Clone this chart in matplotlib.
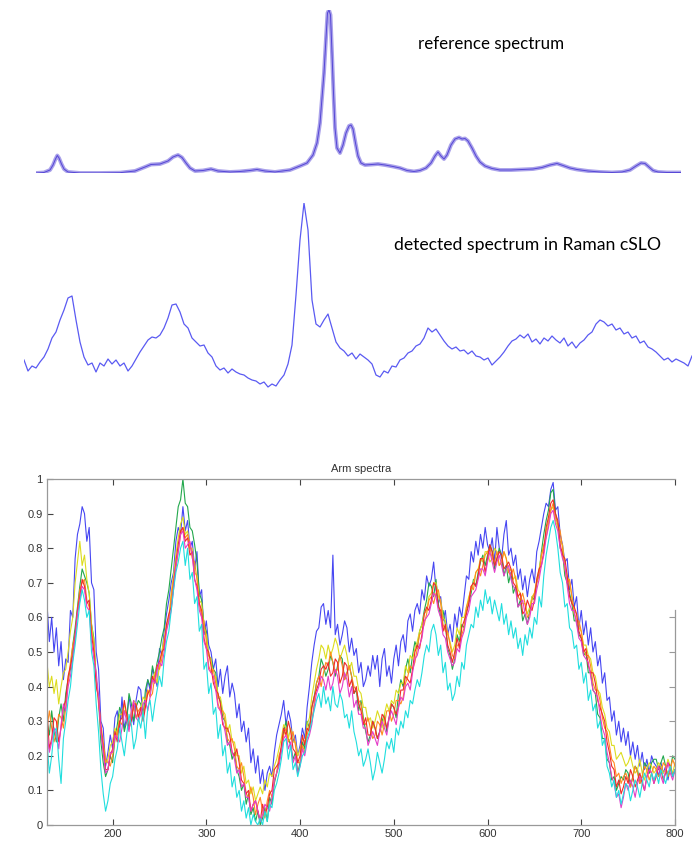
import numpy as np
import matplotlib
matplotlib.use("Agg")
import matplotlib.pyplot as plt

# ---------------- reference spectrum (top) ----------------
ref_shift = [0, 8, 14, 17, 19.5, 21.3, 23, 25.5, 28, 32, 44, 64, 84, 99, 109, 115, 124, 132, 137, 142,
             146, 150, 154, 159, 167, 175, 182, 194, 204, 214, 221, 229, 239, 254, 264, 271, 277, 281,
             284, 286, 288, 290, 291.5, 293, 294.5, 296, 297.5, 299, 301, 304, 307, 310, 313, 315, 317,
             319.5, 322, 325, 329, 336, 342, 349, 357, 364, 371, 378, 384, 390, 395, 399, 402, 405, 408,
             411, 415, 419, 423, 426, 429, 432, 436, 440, 444, 449, 456, 464, 475, 486, 497, 506, 514,
             521, 527, 534, 541, 552, 564, 576, 586, 594, 600, 605, 609, 613, 617, 622, 631, 645]
ref_intensity = [0, 0.5, 3, 8, 14, 17.5, 15, 9, 4, 1, 0, 0, 0.3, 2, 6, 8.5, 9, 12, 16, 18,
                 15.5, 10, 5, 2, 2.5, 4, 2, 1, 1.5, 2.5, 3.5, 2, 1, 3, 7, 10, 18, 30,
                 50, 75, 100, 135, 160, 163, 158, 120, 80, 45, 25, 20, 28, 40, 47, 48, 44,
                 30, 17, 10, 8, 8.5, 9, 8, 6.5, 5, 2.5, 1.5, 2.5, 5, 10, 17, 21, 17, 14,
                 18, 28, 34, 35.5, 34, 34.5, 32, 25, 17, 11, 7, 4.5, 3, 3, 3.5, 4, 5.5, 8,
                 9.5, 7.5, 5, 3.5, 2, 1, 0.5, 1, 3, 7, 10, 9.5, 6, 2.5, 1, 0.5, 0.5]

# ---------------- detected spectrum (middle) ----------------
detected = [30, 19, 24, 22, 28, 33, 41, 52, 58, 70, 80, 92, 94, 70, 48, 33, 25, 27, 18, 27,
            24, 31, 26, 30, 24, 27, 19, 24, 31, 38, 44, 50, 53, 52, 55, 62, 72, 85, 86, 78,
            66, 62, 52, 48, 44, 45, 37, 33, 24, 20, 22, 17, 21, 18, 16, 15, 12, 10, 9, 6,
            8, 3, 6, 4, 10, 15, 26, 45, 95, 150, 187, 160, 90, 66, 63, 70, 76, 62, 48, 42,
            39, 34, 37, 31, 36, 33, 30, 26, 15, 13, 19, 17, 24, 23, 30, 32, 37, 39, 44, 46,
            52, 62, 58, 61, 55, 49, 44, 41, 43, 39, 40, 36, 39, 34, 33, 30, 32, 25, 29, 33,
            38, 44, 49, 51, 55, 52, 56, 48, 51, 46, 52, 49, 54, 50, 47, 52, 44, 48, 42, 47,
            50, 55, 58, 66, 70, 68, 64, 66, 60, 62, 56, 58, 52, 54, 47, 49, 43, 41, 38, 34,
            30, 32, 28, 31, 29, 27, 24, 34]

# ---------------- arm spectra (bottom), values in hundredths, 130..800 ----------------
arm_blue = [64,53,60,50,57,46,53,42,48,47,62,60,77,84,87,92,90,82,86,70,
            68,50,45,30,28,17,21,26,22,31,33,27,37,28,31,37,33,29,36,40,
            39,31,36,42,39,45,43,40,51,49,56,61,65,70,73,82,86,84,92,85,
            88,80,82,74,79,66,68,55,59,52,50,45,48,40,45,38,43,46,37,41,
            38,31,35,27,30,24,28,18,22,15,20,12,16,10,15,17,14,21,26,29,
            32,36,29,33,30,24,26,20,23,28,25,34,40,47,52,56,57,63,64,58,
            62,57,78,55,58,52,55,59,57,50,54,49,51,44,47,40,42,46,43,49,
            45,49,40,48,51,43,46,41,48,52,46,53,55,50,59,61,56,62,64,61,
            68,65,72,69,71,76,68,64,66,59,62,55,58,53,61,57,63,60,66,72,
            71,79,76,82,78,84,80,86,81,79,83,76,86,80,77,84,88,78,80,75,
            78,71,74,68,72,66,71,74,70,79,82,86,90,93,92,97,99,91,92,84,
            81,76,77,68,71,63,66,57,62,55,59,52,57,50,53,46,49,41,44,36,
            37,30,33,26,30,24,28,23,27,20,24,19,23,17,21,16,19,15,20,18,
            17,14,18,15,17,13,17,14,16]
arm_cyan = [24,15,20,27,28,19,12,25,30,36,40,47,52,58,64,68,65,60,62,50,
            46,35,27,16,9,4,7,12,14,19,22,28,24,20,26,32,29,22,25,31,
            28,33,25,34,36,30,35,39,43,40,48,53,56,62,68,73,76,80,82,75,
            80,71,73,64,66,56,58,45,47,38,41,32,34,25,29,20,23,15,18,11,
            14,8,10,4,7,2,5,0,3,1,0,2,0,4,1,6,5,10,12,15,
            19,24,25,19,23,16,18,14,17,20,21,25,27,30,33,36,38,34,40,35,
            37,33,40,35,34,38,36,31,32,28,33,27,24,20,22,17,19,22,18,13,
            16,21,18,15,19,24,22,25,21,28,26,30,28,33,31,36,35,39,42,40,
            44,49,52,50,56,58,55,49,52,44,47,39,41,36,38,43,40,47,45,52,
            55,58,57,63,60,65,62,68,64,66,61,65,62,59,64,58,61,55,59,54,
            57,51,54,49,55,52,57,54,60,58,66,63,72,78,82,86,88,85,80,73,
            70,63,64,57,56,51,52,45,47,41,44,36,39,33,35,28,30,23,25,17,
            15,11,13,8,10,6,9,12,11,7,10,13,11,8,12,15,13,11,15,13,
            15,12,16,14,12,15,17,14,16]
arm_green = [30,26,33,27,24,31,35,30,38,42,45,52,57,63,69,74,72,70,67,58,
             54,42,36,24,18,14,16,20,18,25,29,34,32,27,30,38,35,30,34,36,
             35,31,39,42,40,46,43,47,50,54,57,64,68,74,80,86,92,94,100,93,
             92,86,85,81,76,67,65,58,56,49,48,45,44,37,36,31,30,24,23,19,
             21,16,14,10,12,6,9,3,5,1,4,0,2,5,1,8,6,12,15,18,
             22,27,30,25,23,19,21,15,18,24,22,30,28,34,37,41,43,48,46,43,
             45,49,47,43,46,49,48,42,44,46,43,38,39,33,36,31,27,24,26,30,
             28,25,27,30,32,27,31,35,34,31,38,42,40,45,48,44,49,53,51,56,
             58,62,65,70,69,66,71,64,60,62,58,51,49,45,48,55,53,58,57,62,
             64,67,71,69,73,76,78,75,78,81,79,74,77,80,78,72,75,70,73,67,
             69,63,65,59,61,58,62,66,65,70,73,79,84,88,91,96,97,90,87,80,
             79,72,70,67,64,59,59,55,54,49,50,44,44,39,38,32,31,25,25,19,
             18,13,14,10,12,14,13,16,15,11,14,17,16,12,14,18,17,15,18,19,
             19,16,18,20,17,14,16,20,19]
arm_yellow = [47,40,43,38,42,35,40,44,45,50,56,60,70,76,82,75,78,71,67,58,
              53,42,37,27,22,18,19,23,24,28,26,32,32,35,31,29,33,36,35,31,
              33,37,36,39,38,42,44,41,46,50,54,58,60,67,72,78,83,87,89,84,
              85,80,80,73,72,65,64,57,55,49,48,42,43,37,37,33,32,27,29,24,
              24,20,20,15,17,12,13,9,11,7,9,11,9,13,11,15,14,17,19,22,
              25,29,28,25,28,24,24,20,22,25,24,29,31,37,41,45,48,52,51,48,
              52,49,51,54,52,48,50,52,49,45,47,43,43,39,38,34,34,30,31,28,
              30,33,31,28,32,35,33,36,35,39,38,41,41,46,44,49,48,51,53,56,
              58,61,62,66,67,70,70,66,65,60,59,55,53,50,52,57,55,60,60,63,
              66,68,70,73,74,77,76,79,79,76,77,80,79,75,76,79,77,73,74,71,
              72,68,67,64,64,61,63,66,67,71,74,78,80,85,88,91,92,88,86,82,
              81,75,72,70,66,62,61,57,56,52,52,49,48,44,43,39,38,34,32,28,
              27,23,23,19,20,21,19,17,18,20,17,15,16,19,15,13,16,18,17,15,
              16,18,17,15,16,19,17,15,18]
arm_red = [33,22,25,31,30,24,28,34,36,43,46,49,55,62,66,71,69,64,65,55,
           50,40,37,28,22,16,16,20,22,27,24,30,31,36,32,28,30,35,35,31,
           34,30,34,38,39,43,41,46,47,50,51,58,61,63,69,76,81,85,86,82,
           83,78,79,71,69,64,62,54,51,50,46,41,39,38,35,29,28,28,26,21,
           20,22,18,13,12,9,10,4,6,7,4,1,6,3,5,9,10,16,17,18,
           23,28,26,30,27,22,21,18,20,26,23,28,27,34,37,39,41,45,46,45,
           47,43,44,48,47,41,43,47,46,40,42,38,40,35,33,29,31,26,26,30,
           28,25,27,32,31,28,31,35,34,32,34,39,39,43,42,41,45,50,52,51,
           55,61,63,62,65,70,69,63,62,56,58,52,50,47,50,54,51,57,59,61,
           64,69,70,69,72,77,77,73,77,81,79,75,77,79,78,74,75,76,74,70,
           69,66,67,61,62,65,63,62,65,71,74,75,79,86,89,93,94,90,88,81,
           78,77,72,66,64,63,61,56,54,50,51,46,44,44,41,36,34,32,30,24,
           21,17,16,11,13,9,11,14,12,16,14,11,13,15,12,10,14,16,15,12,
           14,17,16,13,15,18,17,14,16]
arm_orange = [28,33,28,24,27,32,31,28,34,41,47,52,55,62,68,70,71,65,63,56,
              52,42,35,29,24,19,18,17,20,25,27,30,29,33,32,29,31,34,31,33,
              34,32,35,39,37,38,43,46,45,48,53,57,59,66,71,74,79,84,86,83,
              84,81,77,76,71,64,60,59,53,46,44,45,41,35,33,33,30,25,24,25,
              22,17,16,18,14,9,8,11,8,3,6,8,4,2,7,10,8,13,15,20,
              22,26,28,24,25,27,23,18,18,23,21,26,29,30,35,41,43,40,44,47,
              46,50,47,44,45,49,46,42,44,46,43,40,39,36,35,30,29,31,28,25,
              26,30,29,26,29,33,33,30,32,36,36,35,37,41,43,46,45,47,51,55,
              56,58,61,65,66,64,67,68,64,58,56,56,52,49,48,52,52,55,57,63,
              65,69,68,73,74,72,75,78,79,80,77,76,79,75,76,79,77,73,72,74,
              71,66,65,67,64,60,61,65,67,70,72,78,81,83,87,91,93,89,87,85,
              80,74,70,71,66,61,59,59,56,51,49,49,46,41,39,39,36,31,28,27,
              23,19,18,14,15,12,14,15,13,11,14,17,15,12,14,17,16,13,15,17,
              16,14,15,18,17,14,16,19,17]
arm_magenta = [27,21,24,28,26,22,29,35,33,40,43,48,54,61,65,69,68,63,62,53,
               48,44,37,27,21,15,16,21,21,26,25,24,28,33,30,27,33,36,31,30,
               32,35,36,33,37,42,41,45,47,46,50,56,59,62,68,75,79,84,85,80,
               81,82,78,71,68,62,60,53,51,45,44,43,39,34,33,30,27,23,24,21,
               19,15,16,11,12,8,8,4,6,7,4,1,3,6,5,4,8,13,15,17,
               21,25,26,22,24,18,20,15,17,22,20,24,26,29,34,38,40,43,42,39,
               43,39,41,45,43,38,40,44,42,37,40,34,36,32,32,28,28,23,25,27,
               25,23,27,30,28,26,31,33,31,29,34,37,36,40,41,39,44,48,49,52,
               54,59,60,61,64,67,66,62,60,55,54,50,48,46,47,51,50,54,56,60,
               62,66,67,68,71,74,74,72,76,79,76,73,76,78,75,72,74,75,71,69,
               68,63,64,65,61,58,60,64,64,68,71,75,78,83,86,90,91,87,85,80,
               77,75,69,64,62,62,58,54,53,49,48,47,43,39,38,37,32,28,26,21,
               18,14,12,8,9,5,8,12,10,13,11,8,12,14,13,10,14,16,15,12,
               15,17,14,12,16,18,15,13,16]

arm_series = [arm_blue, arm_green, arm_yellow, arm_orange, arm_red, arm_magenta, arm_cyan]
arm_colors = ['#4646f2', '#22a84c', '#dcdc1e', '#ff8a1e', '#f02a2a', '#e43cc8', '#20dede']
x_start, x_end = 130, 800
x_ticks = [200, 300, 400, 500, 600, 700, 800]
y_ticks = [0, 0.1, 0.2, 0.3, 0.4, 0.5, 0.6, 0.7, 0.8, 0.9, 1]
y_tick_labels = ['0', '0.1', '0.2', '0.3', '0.4', '0.5', '0.6', '0.7', '0.8', '0.9', '1']

W, H = 693, 842
fig = plt.figure(figsize=(W / 100, H / 100), dpi=100)

def px_axes(left, top, right, bottom):
    return fig.add_axes([left / W, 1 - bottom / H, (right - left) / W, (bottom - top) / H])

# top panel
ax_ref = px_axes(36, 10, 681, 173)
ax_ref.plot(ref_shift, ref_intensity, color='#aaa2ea', lw=2.8, solid_joinstyle='round')
ax_ref.plot(ref_shift, ref_intensity, color='#5546d6', lw=0.7)
ax_ref.set_xlim(0, 645)
ax_ref.set_ylim(0, 163)
ax_ref.axis('off')

# middle panel
ax_det = px_axes(24, 203, 692, 390)
ax_det.plot(np.arange(len(detected)), detected, color='#5a5af2', lw=0.9)
ax_det.set_xlim(0, len(detected) - 1)
ax_det.set_ylim(0, 187)
ax_det.axis('off')

label_font = ['Lato', 'DejaVu Sans']
fig.text(418 / W, 1 - 44 / H, 'reference spectrum', fontsize=12.2, family=label_font,
         va='center', ha='left', color='black')
fig.text(394 / W, 1 - 245 / H, 'detected spectrum in Raman cSLO', fontsize=12.7, family=label_font,
         va='center', ha='left', color='black')

# bottom panel
ax = px_axes(47, 479, 675, 825)
for vals, col in zip(arm_series, arm_colors):
    vals = np.asarray(vals) / 100.0
    xs = np.linspace(x_start, x_end, len(vals))
    ax.plot(xs, vals, color=col, lw=0.8)
ax.set_xlim(x_start, x_end)
ax.set_ylim(0, 1)
ax.set_xticks(x_ticks)
ax.set_yticks(y_ticks)
ax.set_yticklabels(y_tick_labels)
ax.tick_params(direction='in', top=True, right=False, length=4, width=0.8,
               labelsize=8, colors='#444444', pad=3)
for s in ax.spines.values():
    s.set_color('#999999')
    s.set_linewidth(0.9)
ax.spines['right'].set_bounds(0, 0.62)
for lab in ax.get_xticklabels() + ax.get_yticklabels():
    lab.set_family(['Liberation Sans', 'DejaVu Sans'])
    lab.set_color('#333333')
ax2 = ax.twinx()
ax2.set_ylim(0, 1)
ax2.set_yticks([0.1, 0.2, 0.3, 0.4, 0.5, 0.6])
ax2.tick_params(direction='in', length=4, width=0.8, labelright=False, colors='#999999')
for s in ax2.spines.values():
    s.set_visible(False)
ax.set_title('Arm spectra', fontsize=8, family=['Liberation Sans', 'DejaVu Sans'],
             color='#333333', pad=5)

fig.savefig('out.png', dpi=100)
